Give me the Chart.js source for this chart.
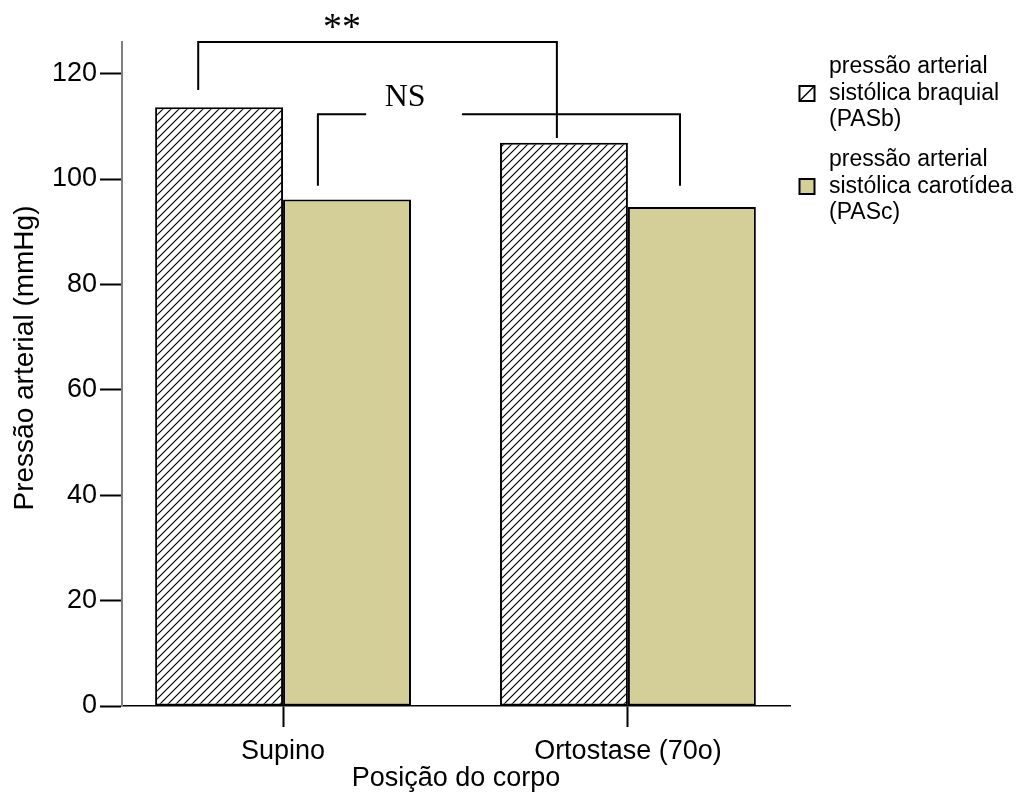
<!DOCTYPE html>
<html>
<head>
<meta charset="utf-8">
<script src="https://cdn.jsdelivr.net/npm/chart.js@4.4.1/dist/chart.umd.min.js"></script>
<style>
  html, body { margin: 0; padding: 0; background: #ffffff; }
  #wrap { width: 1018px; height: 810px; }
</style>
</head>
<body>
<div id="wrap"><canvas id="chart" width="1018" height="810"></canvas></div>
<script>
// Systolic pressure by body position (mmHg)
const categories = ['Supino', 'Ortostase (70o)'];
const pasbValues = [113.6, 106.9];   // brachial systolic pressure
const pascValues = [96.1, 94.7];     // carotid systolic pressure
const yTickValues = [0, 20, 40, 60, 80, 100, 120];
const seriesNames = [
  ['pressão arterial', 'sistólica braquial', '(PASb)'],
  ['pressão arterial', 'sistólica carotídea', '(PASc)']
];
const yTitle = 'Pressão arterial (mmHg)';
const xTitle = 'Posição do corpo';
const yMax = 126;

const SANS = '"Liberation Sans", Arial, sans-serif';
const SERIF = '"Liberation Serif", "Times New Roman", serif';
const OLIVE = '#d4cf98';

function hatchPattern() {
  const s = 8;
  const c = document.createElement('canvas');
  c.width = s; c.height = s;
  const g = c.getContext('2d');
  g.fillStyle = '#ffffff';
  g.fillRect(0, 0, s, s);
  g.strokeStyle = '#000000';
  g.lineWidth = 1.2;
  g.beginPath();
  g.moveTo(0, s); g.lineTo(s, 0);
  g.moveTo(-1, 1); g.lineTo(1, -1);
  g.moveTo(s - 1, s + 1); g.lineTo(s + 1, s - 1);
  g.stroke();
  return g.createPattern(c, 'repeat');
}
const HATCH = hatchPattern();

// significance brackets, positioned on the chart's own scales
const sigBrackets = [
  { text: '**', size: 38, x1: 0.754, x2: 1.794, level: 126, end1: 116.9, end2: 107.8, textX: 1.171, textDy: -3, gap: null },
  { text: 'NS', size: 32, x1: 1.101, x2: 2.151, level: 112.3, end1: 98.7, end2: 98.7, textX: 1.354, textDy: -8, gap: [1.241, 1.519] }
];

const bracketPlugin = {
  id: 'sigBrackets',
  afterDatasetsDraw(chart) {
    const { ctx } = chart;
    const xs = chart.scales.x, ys = chart.scales.y;
    ctx.save();
    ctx.strokeStyle = '#000000';
    ctx.lineWidth = 2;
    ctx.lineCap = 'butt';
    sigBrackets.forEach(b => {
      const px1 = xs.getPixelForValue(b.x1), px2 = xs.getPixelForValue(b.x2);
      const py = ys.getPixelForValue(b.level);
      ctx.beginPath();
      ctx.moveTo(px1, ys.getPixelForValue(b.end1));
      ctx.lineTo(px1, py);
      if (b.gap) {
        ctx.lineTo(xs.getPixelForValue(b.gap[0]), py);
        ctx.moveTo(xs.getPixelForValue(b.gap[1]), py);
      }
      ctx.lineTo(px2, py);
      ctx.lineTo(px2, ys.getPixelForValue(b.end2));
      ctx.stroke();
      ctx.fillStyle = '#000000';
      ctx.font = b.size + 'px ' + SERIF;
      ctx.textAlign = 'center';
      ctx.textBaseline = 'alphabetic';
      ctx.fillText(b.text, xs.getPixelForValue(b.textX), py + b.textDy);
    });
    ctx.restore();
  }
};

// vertical axis title, centred a little above the middle of the axis
const yTitlePlugin = {
  id: 'yTitle',
  afterDraw(chart) {
    const { ctx } = chart;
    ctx.save();
    ctx.translate(25, 358);
    ctx.rotate(-Math.PI / 2);
    ctx.font = '28px ' + SANS;
    ctx.fillStyle = '#000000';
    ctx.textAlign = 'center';
    ctx.textBaseline = 'middle';
    ctx.fillText(yTitle, 0, 0);
    ctx.restore();
  }
};

const legendPlugin = {
  id: 'sideLegend',
  afterDraw(chart) {
    const { ctx } = chart;
    const left = chart.chartArea.right + 10;
    const textX = left + 29;
    const lineH = 26.5;
    const groupStep = 93;
    let y = 67;
    ctx.save();
    ctx.font = '23px ' + SANS;
    ctx.textAlign = 'left';
    ctx.textBaseline = 'middle';
    chart.data.datasets.forEach((ds, i) => {
      const lines = seriesNames[i];
      lines.forEach((t, k) => {
        ctx.fillStyle = '#000000';
        ctx.fillText(t, textX, y + k * lineH);
      });
      const midY = y + lineH;
      const bs = 15;
      const bx = left - 0.5, by = midY - bs / 2;
      ctx.fillStyle = i === 0 ? '#ffffff' : OLIVE;
      ctx.fillRect(bx, by, bs, bs);
      if (i === 0) {
        ctx.strokeStyle = '#000000';
        ctx.lineWidth = 1.4;
        ctx.beginPath();
        ctx.moveTo(bx + 1, by + bs - 1);
        ctx.lineTo(bx + bs - 1, by + 1);
        ctx.stroke();
      }
      ctx.strokeStyle = '#000000';
      ctx.lineWidth = 2;
      ctx.strokeRect(bx, by, bs, bs);
      y += groupStep;
    });
    ctx.restore();
  }
};

new Chart(document.getElementById('chart'), {
  type: 'bar',
  data: {
    datasets: [
      {
        label: seriesNames[0].join(' '),
        data: pasbValues.map((v, i) => ({ x: i + 1, y: v })),
        backgroundColor: HATCH,
        borderColor: '#000000',
        borderWidth: 2,
        borderSkipped: false
      },
      {
        label: seriesNames[1].join(' '),
        data: pascValues.map((v, i) => ({ x: i + 1, y: v })),
        backgroundColor: OLIVE,
        borderColor: '#000000',
        borderWidth: 2,
        borderSkipped: false
      }
    ]
  },
  options: {
    responsive: false,
    animation: false,
    categoryPercentage: 0.742,
    barPercentage: 1.0,
    layout: { padding: { top: 42, right: 228, left: 0, bottom: 0 } },
    plugins: {
      legend: { display: false },
      tooltip: { enabled: false }
    },
    scales: {
      x: {
        type: 'linear',
        offset: false,
        min: 0.533,
        max: 2.47,
        afterBuildTicks(scale) {
          scale.ticks = categories.map((c, i) => ({ value: i + 1 }));
        },
        afterFit(scale) { scale.height = 104; },
        border: { display: true, color: '#000000', width: 1.5 },
        grid: { offset: false, drawOnChartArea: false, drawTicks: true, tickLength: 21, tickColor: '#000000', tickWidth: 2 },
        ticks: {
          color: '#000000',
          font: { family: SANS, size: 27 },
          padding: 8,
          maxRotation: 0,
          autoSkip: false,
          callback: (v) => categories[v - 1]
        },
        title: {
          display: true,
          text: xTitle,
          color: '#000000',
          font: { family: SANS, size: 27 },
          padding: { top: 0, bottom: 15 }
        }
      },
      y: {
        min: 0,
        max: yMax,
        afterBuildTicks(scale) {
          scale.ticks = yTickValues.map(v => ({ value: v }));
        },
        afterFit(scale) { scale.width = 122; },
        border: { display: true, color: '#808080', width: 2 },
        grid: { drawOnChartArea: false, drawTicks: true, tickLength: 22, tickColor: '#000000', tickWidth: 2 },
        ticks: {
          color: '#000000',
          font: { family: SANS, size: 27 },
          padding: 3
        },
        title: { display: false }
      }
    }
  },
  plugins: [bracketPlugin, yTitlePlugin, legendPlugin]
});
</script>
</body>
</html>
